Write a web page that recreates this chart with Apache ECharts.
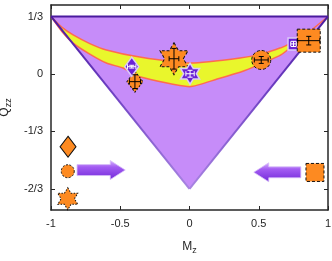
<!DOCTYPE html>
<html><head><meta charset="utf-8">
<script src="https://cdn.jsdelivr.net/npm/echarts@6/dist/echarts.min.js"></script>
<style>html,body{margin:0;padding:0;background:#fff}#c{width:332px;height:261px}</style>
</head><body><div id="c"></div>
<script>
// ---------- data ----------
const xTicks = [-1, -0.5, 0, 0.5, 1];
const xTickLabels = ['-1', '-0.5', '0', '0.5', '1'];
const yTicks = [-2/3, -1/3, 0, 1/3];
const yTickLabels = ['-2/3', '-1/3', '0', '1/3'];

const triangleM = [-1, 1, 0];
const triangleQ = [1/3, 1/3, -2/3];

const bandUpperM = [-1, -0.92, -0.84, -0.72, -0.6, -0.36, 0, 0.365, 0.55, 0.653, 0.74, 0.78];
const bandUpperQ = [1/3, 0.27, 0.226, 0.176, 0.139, 0.098, 0.063, 0.092, 0.122, 0.150, 0.179, 0.188];
const bandLowerM = [-1, -0.92, -0.84, -0.72, -0.6, -0.48, -0.36, 0, 0.2, 0.4, 0.55, 0.66, 0.74, 0.78];
const bandLowerQ = [1/3, 0.245, 0.179, 0.115, 0.063, 0.034, -0.016, -0.074, -0.03, 0.02, 0.07, 0.11, 0.16, 0.188];
const bandTailM = [0.78, 1];
const bandTailQ = [0.188, 1/3];

const markerM = [-0.394, -0.417, -0.112, 0.004, 0.518, 0.751, 0.861];
const markerQ = [-0.045, 0.042, 0.088, 0.001, 0.081, 0.174, 0.193];
const markerErrM = [0.04, 0.03, 0.035, 0.03, 0.05, 0.02, 0.08];
const markerErrQ = [0.04, 0.008, 0.06, 0.02, 0.02, 0.015, 0.025];

const keyM = [-0.877, -0.879, -0.879, 0.906];
const keyQ = [-0.423, -0.565, -0.725, -0.572];

const arrowStartM = [-0.812, 0.804];
const arrowEndM = [-0.464, 0.464];
const arrowQ = [-0.558, -0.571];

// ---------- styles ----------
const ORANGE = '#fd8a21';
const PURPLE = '#6a22d4';
const PBORDER = '#dccbf7';
const HEX = 'path://M0,-1 L0.2887,-0.5 L0.866,-0.5 L0.577,0 L0.866,0.5 L0.2887,0.5 L0,1 L-0.2887,0.5 L-0.866,0.5 L-0.577,0 L-0.866,-0.5 L-0.2887,-0.5 Z';
const markerStyles = [
  {symbol: 'diamond', size: [16, 21], color: ORANGE, bc: '#111', bw: 1, bt: [2, 1.5], ec: '#000'},
  {symbol: 'diamond', size: [14, 19], color: PURPLE, bc: PBORDER, bw: 1.5, bt: 'solid', ec: '#fff'},
  {symbol: HEX, size: [28, 32], color: ORANGE, bc: '#111', bw: 1, bt: [3, 2], ec: '#000'},
  {symbol: HEX, size: [19, 21], color: PURPLE, bc: PBORDER, bw: 1.5, bt: 'solid', ec: '#fff'},
  {symbol: 'circle', size: 19, color: ORANGE, bc: '#111', bw: 1, bt: [3, 2], ec: '#000'},
  {symbol: 'rect', size: [11, 12], color: PURPLE, bc: PBORDER, bw: 1.5, bt: 'solid', ec: '#fff'},
  {symbol: 'rect', size: [23, 23], color: ORANGE, bc: '#111', bw: 1, bt: [3, 2], ec: '#000'}
];
const keyStyles = [
  {symbol: 'diamond', size: [16, 21], bt: 'solid'},
  {symbol: 'circle', size: 13, bt: [2, 1.5]},
  {symbol: HEX, size: [20, 22], bt: [1.5, 1.5]},
  {symbol: 'rect', size: [18, 18], bt: [3, 2]}
];

const FONT = 'Liberation Sans, Arial, sans-serif';
const AXC = '#262626';

const chart = echarts.init(document.getElementById('c'), null, {renderer: 'canvas'});

function pts(ms, qs, api) { return ms.map((m, i) => api.coord([m, qs[i]])); }

const triSeries = {
  type: 'custom', coordinateSystem: 'cartesian2d', z: 1, silent: true,
  data: [[0, 0]],
  renderItem: function (params, api) {
    const p = pts(triangleM, triangleQ, api);
    return {type: 'polygon', shape: {points: p}, style: {fill: '#c68cf9', stroke: null}};
  }
};
const bandSeries = {
  type: 'custom', coordinateSystem: 'cartesian2d', z: 2, silent: true,
  data: [[0, 0]],
  renderItem: function (params, api) {
    const up = pts(bandUpperM, bandUpperQ, api);
    const lo = pts(bandLowerM, bandLowerQ, api);
    const tail = pts(bandTailM, bandTailQ, api);
    const poly = up.concat(lo.slice().reverse());
    return {type: 'group', children: [
      {type: 'polygon', shape: {points: poly, smooth: 0.2}, style: {fill: '#e9f62c', stroke: '#ff6b50', lineWidth: 1.5}},
      {type: 'polyline', shape: {points: tail}, style: {stroke: '#ff6b50', lineWidth: 1.5, fill: null}}
    ]};
  }
};
const edgeSeries = {
  type: 'custom', coordinateSystem: 'cartesian2d', z: 3, silent: true,
  data: [[0, 0]],
  renderItem: function (params, api) {
    const p = pts(triangleM, triangleQ, api);
    const mk = () => new echarts.graphic.LinearGradient(0, 0, 0, 1, [
      {offset: 0, color: '#4a1a9e'}, {offset: 0.4, color: '#6a3cc0'}, {offset: 1, color: '#a985e2'}]);
    return {type: 'group', children: [
      {type: 'line', shape: {x1: p[0][0], y1: p[0][1], x2: p[1][0], y2: p[1][1]}, style: {stroke: '#4a1a9e', lineWidth: 2}},
      {type: 'line', shape: {x1: p[0][0], y1: p[0][1], x2: p[2][0], y2: p[2][1]}, style: {stroke: mk(), lineWidth: 2}},
      {type: 'line', shape: {x1: p[1][0], y1: p[1][1], x2: p[2][0], y2: p[2][1]}, style: {stroke: mk(), lineWidth: 2}}
    ]};
  }
};
const arrowSeries = {
  type: 'custom', coordinateSystem: 'cartesian2d', z: 4, silent: true,
  data: arrowQ.map((q, i) => [arrowStartM[i], q, arrowEndM[i]]),
  renderItem: function (params, api) {
    const s = api.coord([api.value(0), api.value(1)]);
    const e = api.coord([api.value(2), api.value(1)]);
    const dir = e[0] > s[0] ? 1 : -1;
    const hb = 5.5, hh = 9.5, hl = 15;
    const y = s[1];
    const neck = e[0] - dir * hl;
    const poly = [[s[0], y - hb], [neck, y - hb], [neck, y - hh], [e[0], y], [neck, y + hh], [neck, y + hb], [s[0], y + hb]];
    return {type: 'polygon', shape: {points: poly}, style: {
      fill: new echarts.graphic.LinearGradient(0, 0, 0, 1, [
        {offset: 0, color: '#dab8ff'}, {offset: 0.35, color: '#a35cf2'}, {offset: 1, color: '#7128d8'}]),
      stroke: '#d7bdf9', lineWidth: 0.8}};
  }
};
const markerSeries = {
  type: 'scatter', z: 5, silent: true,
  data: markerM.map((m, i) => ({
    value: [m, markerQ[i]],
    symbol: markerStyles[i].symbol,
    symbolSize: markerStyles[i].size,
    itemStyle: {color: markerStyles[i].color, borderColor: markerStyles[i].bc, borderWidth: markerStyles[i].bw, borderType: markerStyles[i].bt, opacity: 1}
  }))
};
const errSeries = {
  type: 'custom', coordinateSystem: 'cartesian2d', z: 6, silent: true,
  data: markerM.map((m, i) => [m, markerQ[i], markerErrM[i], markerErrQ[i], i]),
  renderItem: function (params, api) {
    const m = api.value(0), q = api.value(1), dm = api.value(2), dq = api.value(3), i = api.value(4);
    const c = api.coord([m, q]);
    const l = api.coord([m - dm, q]), r = api.coord([m + dm, q]);
    const t = api.coord([m, q + dq]), b = api.coord([m, q - dq]);
    const col = markerStyles[i].ec;
    const st = {stroke: col, lineWidth: 1};
    const cap = 2.5;
    return {type: 'group', children: [
      {type: 'line', shape: {x1: l[0], y1: c[1], x2: r[0], y2: c[1]}, style: st},
      {type: 'line', shape: {x1: l[0], y1: c[1] - cap, x2: l[0], y2: c[1] + cap}, style: st},
      {type: 'line', shape: {x1: r[0], y1: c[1] - cap, x2: r[0], y2: c[1] + cap}, style: st},
      {type: 'line', shape: {x1: c[0], y1: t[1], x2: c[0], y2: b[1]}, style: st},
      {type: 'line', shape: {x1: c[0] - cap, y1: t[1], x2: c[0] + cap, y2: t[1]}, style: st},
      {type: 'line', shape: {x1: c[0] - cap, y1: b[1], x2: c[0] + cap, y2: b[1]}, style: st}
    ]};
  }
};
const keySeries = {
  type: 'scatter', z: 5, silent: true,
  data: keyM.map((m, i) => ({
    value: [m, keyQ[i]],
    symbol: keyStyles[i].symbol,
    symbolSize: keyStyles[i].size,
    itemStyle: {color: ORANGE, borderColor: '#111', borderWidth: 1, borderType: keyStyles[i].bt, opacity: 1}
  }))
};

const axisLineStyle = {color: AXC, width: 1.5};
chart.setOption({
  animation: false,
  grid: {left: 51, right: 4, top: 5, bottom: 51, containLabel: false, outerBoundsMode: 'none'},
  xAxis: [
    {type: 'value', min: -1, max: 1, interval: 0.5, position: 'bottom',
     axisLine: {show: true, onZero: false, lineStyle: axisLineStyle},
     axisTick: {show: true, inside: true, length: 4, lineStyle: {color: AXC}},
     splitLine: {show: false},
     axisLabel: {color: AXC, fontSize: 11, fontFamily: FONT, margin: 8,
       formatter: v => { const k = xTicks.findIndex(t => Math.abs(t - v) < 1e-6); return k >= 0 ? xTickLabels[k] : ''; }},
     name: '{m|M}{s|z}', nameLocation: 'middle', nameGap: 28,
     nameTextStyle: {color: AXC, fontFamily: FONT, rich: {m: {fontSize: 12, fontFamily: FONT, color: AXC}, s: {fontSize: 9, fontFamily: FONT, color: AXC, padding: [8, 0, 0, 0]}}}},
    {type: 'value', min: -1, max: 1, interval: 0.5, position: 'top',
     axisLine: {show: true, onZero: false, lineStyle: axisLineStyle},
     axisTick: {show: true, inside: true, length: 4, lineStyle: {color: AXC}},
     splitLine: {show: false}, axisLabel: {show: false}}
  ],
  yAxis: [
    {type: 'value', min: -0.79, max: 0.4, position: 'left',
     axisLine: {show: true, onZero: false, lineStyle: axisLineStyle},
     axisTick: {show: true, inside: true, length: 4, customValues: yTicks, lineStyle: {color: AXC}},
     splitLine: {show: false},
     axisLabel: {color: AXC, fontSize: 11, fontFamily: FONT, margin: 8, customValues: yTicks,
       formatter: v => { const k = yTicks.findIndex(t => Math.abs(t - v) < 1e-6); return k >= 0 ? yTickLabels[k] : ''; }},
     name: '{q|Q}{s|zz}', nameLocation: 'middle', nameGap: 26,
     nameTextStyle: {color: AXC, fontFamily: FONT, rich: {q: {fontSize: 12, fontFamily: FONT, color: AXC}, s: {fontSize: 9, fontFamily: FONT, color: AXC, padding: [8, 0, 0, 0]}}}},
    {type: 'value', min: -0.79, max: 0.4, position: 'right',
     axisLine: {show: true, onZero: false, lineStyle: axisLineStyle},
     axisTick: {show: true, inside: true, length: 4, customValues: yTicks, lineStyle: {color: AXC}},
     splitLine: {show: false}, axisLabel: {show: false}}
  ],
  series: [triSeries, bandSeries, edgeSeries, arrowSeries, keySeries, markerSeries, errSeries]
});
</script></body></html>
